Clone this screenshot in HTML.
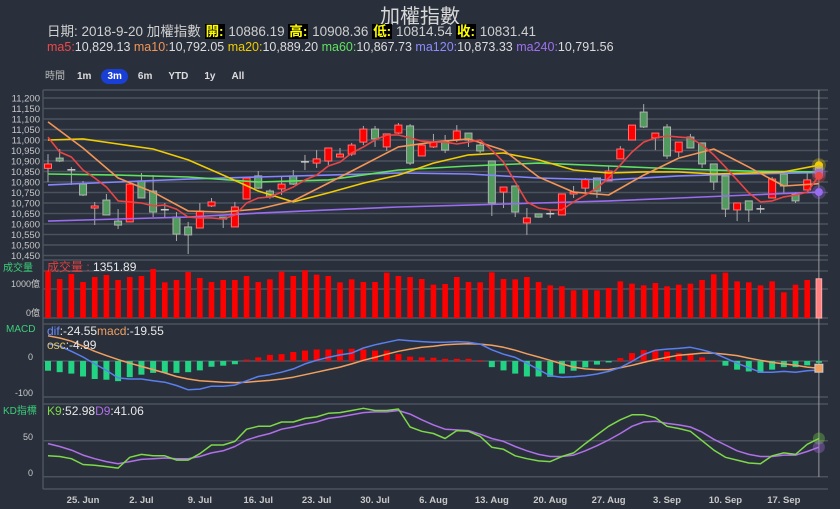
<!DOCTYPE html>
<html><head><meta charset="utf-8">
<style>
html,body{margin:0;padding:0;background:#29303b;width:840px;height:509px;overflow:hidden;font-family:"Liberation Sans","Noto Sans CJK TC",sans-serif;}
.abs{position:absolute;white-space:nowrap;}
#title{left:0;width:840px;text-align:center;top:0;font-size:20px;color:#d8d8d8;}
#info{left:47px;top:20px;font-size:13.5px;color:#cfcfcf;}
#info .k{background:#000;color:#ffff00;font-weight:bold;padding:0 1px;}
#mas{left:47px;top:40px;font-size:12.5px;color:#dcdcdc;}
#range{left:43px;top:65px;font-size:10px;color:#ddd;}
#range span{display:inline-block;margin-right:4px;padding:2px 6px;border-radius:8px;font-weight:bold;}
svg{position:absolute;left:0;top:0;}
</style></head>
<body>
<div id="title" class="abs">加權指數</div>
<div id="info" class="abs">日期: 2018-9-20 加權指數 <span class="k">開:</span> 10886.19 <span class="k">高:</span> 10908.36 <span class="k">低:</span> 10814.54 <span class="k">收:</span> 10831.41</div>
<div id="mas" class="abs"><span style="color:#f04848">ma5:</span>10,829.13 <span style="color:#f39556">ma10:</span>10,792.05 <span style="color:#f0cc00">ma20:</span>10,889.20 <span style="color:#5fe35f">ma60:</span>10,867.73 <span style="color:#8c8cff">ma120:</span>10,873.33 <span style="color:#a070f0">ma240:</span>10,791.56</div>
<div id="range" class="abs"><span style="font-weight:normal;color:#bbb;padding:2px 2px">時間</span><span>1m</span><span style="background:#1a3fd6;color:#fff">3m</span><span>6m</span><span>YTD</span><span>1y</span><span>All</span></div>
<svg id="chart" width="840" height="509"></svg>
<script>
const opens=[10865,10914,10855,10790,10676,10714,10614,10610,10805,10757,10665,10633,10586,10581,10686,10633,10586,10719,10829,10757,10767,10829,10894,10890,10900,10919,10933,10990,11052,10967,11033,11067,10924,10967,10990,11000,11033,10976,10900,10752,10781,10605,10648,10647,10643,10743,10771,10819,10805,10910,11000,11133,11010,11062,10943,11014,10986,10886,10829,10667,10710,10670,10724,10838,10743,10762,10886];
const closes=[10886,10900,10858,10738,10686,10643,10595,10790,10724,10657,10668,10552,10548,10662,10705,10624,10681,10819,10771,10729,10790,10790,10896,10910,10962,10933,10976,11052,11005,11029,11071,10890,10976,10990,10952,11043,11000,10948,10700,10776,10657,10629,10633,10649,10743,10752,10814,10757,10852,10957,11071,11062,11033,10924,10990,10962,10886,10800,10671,10700,10667,10672,10814,10781,10710,10810,10831];
const highs=[10933,10957,10871,10805,10705,10743,10671,10790,10843,10833,10700,10657,10610,10700,10724,10633,10705,10819,10852,10765,10824,10857,10929,10952,10962,10962,10986,11067,11067,11029,11081,11076,10976,11029,11024,11071,11033,10990,10900,10776,10781,10676,10650,10670,10743,10781,10819,10819,10876,10971,11071,11171,11033,11076,10990,11029,10986,10886,10829,10700,10710,10690,10824,10838,10752,10843,10908];
const lows=[10800,10895,10786,10733,10595,10643,10576,10610,10724,10633,10629,10519,10457,10581,10681,10581,10586,10719,10767,10720,10738,10786,10857,10867,10881,10919,10924,10976,10967,10948,11029,10881,10924,10962,10938,10990,10967,10938,10638,10676,10633,10548,10630,10629,10643,10724,10748,10724,10805,10910,11000,11057,10952,10910,10919,10962,10867,10762,10633,10614,10610,10652,10724,10748,10700,10762,10815];
const ma5=[11014,10943,10919,10857,10819,10776,10710,10705,10700,10686,10690,10671,10633,10629,10629,10624,10643,10700,10724,10729,10752,10776,10810,10833,10876,10895,10938,10967,11000,11024,11024,11010,10995,10990,10990,10981,10990,11000,10952,10895,10800,10705,10676,10667,10667,10705,10738,10771,10819,10881,10943,10990,11010,11019,11014,11010,10976,10929,10871,10810,10748,10705,10710,10729,10738,10752,10829];
const ma10=[11086,10962,10819,10752,10662,10657,10671,10710,10795,10881,10967,10990,11005,10952,10824,10752,10738,10833,10914,10957,10871,10781,10792];
const ma20=[11000,11005,10981,10957,10905,10833,10757,10705,10748,10795,10833,10890,10929,10938,10905,10857,10843,10848,10848,10838,10843,10848,10880];
const ma60=[10838,10833,10824,10800,10810,10857,10876,10890,10876,10862,10852,10848];
const ma120=[10786,10800,10814,10824,10833,10843,10838,10819,10810,10829,10838,10845];
const ma240=[10614,10624,10633,10652,10667,10681,10690,10700,10710,10724,10738,10752];
const volumes=[1632,1345,1517,1241,1414,1483,1310,1414,1448,1690,1230,1310,1586,1380,1241,1310,1310,1448,1241,1333,1598,1448,1644,1494,1448,1230,1333,1241,1241,1563,1448,1414,1345,1149,1172,1414,1241,1230,1575,1345,1333,1414,1241,1126,1092,954,977,954,1034,1264,1184,1126,1207,1092,1149,1184,1310,1506,1563,1264,1230,1126,1264,885,1149,1310,1352];
const oscs=[-27,-31,-35,-43,-50,-52,-56,-45,-38,-33,-33,-33,-31,-26,-16,-13,-9,4,10,17,19,25,29,32,32,32,34,32,29,29,19,12,10,9,6,6,6,0,-17,-26,-35,-43,-43,-44,-35,-27,-18,-10,-4,8,22,30,30,26,22,19,10,1,-13,-24,-29,-33,-24,-17,-17,-12,-5];
const difs=[48,41,27,11,-8,-26,-47,-50,-50,-55,-59,-68,-80,-78,-70,-70,-67,-55,-43,-38,-31,-22,-8,2,10,17,22,36,45,52,59,56,54,52,52,54,52,47,31,19,10,-6,-24,-41,-45,-44,-41,-36,-29,-18,-1,18,30,33,35,38,31,22,8,-6,-19,-31,-31,-29,-31,-27,-25];
const macds=[70,64,55,41,27,15,4,-6,-15,-24,-33,-43,-50,-55,-57,-59,-60,-59,-56,-54,-50,-45,-38,-31,-24,-17,-8,2,10,19,27,33,38,41,45,47,48,47,44,38,30,20,11,2,-8,-17,-22,-24,-24,-19,-12,-4,4,10,16,19,22,22,19,15,8,2,-4,-8,-12,-17,-20];
const kVals=[29,28,25,17,16,14,12,27,31,29,29,23,23,32,44,44,49,66,70,70,76,76,81,83,88,89,92,95,92,92,94,69,63,60,53,64,63,56,41,38,29,25,22,21,28,33,46,58,70,79,86,86,82,70,67,63,50,37,27,23,19,18,29,33,31,45,53];
const dVals=[46,42,37,30,25,21,18,21,24,25,26,25,25,28,33,36,42,51,56,60,66,69,73,76,81,83,86,89,90,90,92,87,79,72,66,65,64,59,53,49,42,36,31,28,28,30,36,43,51,60,70,76,77,74,72,69,62,52,44,36,31,28,28,30,30,35,41];
const priceTicks=[11200,11150,11100,11050,11000,10950,10900,10850,10800,10750,10700,10650,10600,10550,10500,10450];
const dateLabels=["25. Jun","2. Jul","9. Jul","16. Jul","23. Jul","30. Jul","6. Aug","13. Aug","20. Aug","27. Aug","3. Sep","10. Sep","17. Sep"];
const dateIdx=[3,8,13,18,23,28,33,38,43,48,53,58,63];

const NS="http://www.w3.org/2000/svg";
const svg=document.getElementById('chart');
function mk(tag,attrs,parent){const e=document.createElementNS(NS,tag);for(const k in attrs)e.setAttribute(k,attrs[k]);(parent||svg).appendChild(e);return e;}
const X=i=>48+i*11.68;
const PY=p=>98+(11200-p)*0.21;
const VY=v=>318-v*0.029;
const MY=v=>361-v*0.36;
const KY=v=>476.7-v*0.72;
const L=43,R=828,GRID="#4a525e",LBL="#c8c8c8";

function hline(y,name){const l=mk('line',{x1:L,x2:R,y1:y,y2:y,stroke:GRID,'stroke-width':1.5});}
function text(x,y,s,opts,name){const t=mk('text',Object.assign({x:x,y:y,'font-size':9.5,fill:LBL,'font-family':'"Liberation Sans","Noto Sans CJK TC",sans-serif'},opts||{}));t.textContent=s;return t;}

hline(90,'main-panel-top');
priceTicks.forEach(p=>{hline(PY(p),'price-gridline');text(40,PY(p)+3.5,p.toLocaleString('en-US'),{'text-anchor':'end'},'price-tick-label');});
hline(260,'volume-panel-top');hline(271,'volume-gridline');hline(VY(1000),'volume-gridline');hline(318,'volume-panel-bottom');
text(40,287,'1000億',{'text-anchor':'end','font-size':9},'volume-tick-label');
text(40,316,'0億',{'text-anchor':'end','font-size':9},'volume-tick-label');
hline(324,'macd-panel-top');hline(MY(0),'macd-zero-line');hline(397,'macd-panel-bottom');
text(33,360,'0',{'text-anchor':'end','font-size':9},'macd-tick-label');
text(33,396,'-100',{'text-anchor':'end','font-size':9},'macd-tick-label');
hline(404,'kd-panel-top');hline(KY(50),'kd-gridline');hline(KY(0),'kd-panel-bottom');
text(33,440,'50',{'text-anchor':'end','font-size':9},'kd-tick-label');
text(33,476,'0',{'text-anchor':'end','font-size':9},'kd-tick-label');
const ax=mk('line',{x1:L,x2:L,y1:90,y2:489,stroke:GRID,'stroke-width':1.5});
const xb=mk('line',{x1:L,x2:R,y1:489,y2:489,stroke:GRID,'stroke-width':1.5});
text(3,271,'成交量',{'font-size':10,fill:'#3ccf7a'},'volume-panel-label');
text(6,332,'MACD',{'font-size':10,fill:'#3ccf7a'},'macd-panel-label');
text(3,414,'KD指標',{'font-size':10,fill:'#3ccf7a'},'kd-panel-label');
dateLabels.forEach((s,j)=>{text(X(dateIdx[j]),503,s,{'text-anchor':'middle','font-size':9.5,'font-weight':'bold'},'x-tick-label');});

const ch=mk('line',{x1:X(66),x2:X(66),y1:90,y2:477,stroke:'#999','stroke-width':1});

opens.forEach((o,i)=>{
  const c=closes[i],x=X(i);
  const g=mk('g',{});
  mk('line',{x1:x,x2:x,y1:PY(highs[i]),y2:PY(lows[i]),stroke:'#aaa','stroke-width':1},g);
  if(Math.abs(c-o)<5){mk('line',{x1:x-4,x2:x+4,y1:PY(c),y2:PY(c),stroke:'#ccc','stroke-width':1.5},g);}
  else{const up=c>o;const t=PY(Math.max(o,c)),b=PY(Math.min(o,c));
    mk('rect',{x:x-3.5,y:t,width:7,height:Math.max(1,b-t),fill:up?'#ff0000':'#4f9a5c',stroke:up?'#ff7070':'#b0b0b0','stroke-width':1},g);}
});
function line(arr,step,fy,color,name,w){
  const pts=arr.map((v,j)=>X(j*step).toFixed(1)+','+fy(v).toFixed(1)).join(' ');
  const p=mk('polyline',{points:pts,fill:'none',stroke:color,'stroke-width':w||1.6,'stroke-linejoin':'round'});
  return p;
}
line(ma240,6,PY,'#9a6cf0','ma240-line');
line(ma120,6,PY,'#8585ff','ma120-line');
line(ma60,6,PY,'#5fe35f','ma60-line');
line(ma20,3,PY,'#f0cc00','ma20-line');
line(ma10,3,PY,'#f39556','ma10-line');
line(ma5,1,PY,'#ea4545','ma5-line');
[[ma20[ma20.length-1],'#f0cc00'],[ma120[ma120.length-1],'#8585ff'],[ma5[ma5.length-1],'#ea4545'],[ma240[ma240.length-1],'#9a6cf0']].forEach(a=>{
  const y=PY(a[0]);const h=mk('circle',{cx:X(66),cy:y,r:7,fill:a[1],opacity:0.3});
  const c=mk('circle',{cx:X(66),cy:y,r:4,fill:a[1]});
});

volumes.forEach((v,i)=>{const last=i===volumes.length-1;
  const r=mk('rect',{x:X(i)-2.8,y:VY(v),width:5.6,height:318-VY(v),fill:last?'#ff8080':'#ff0000',stroke:last?'#ffaaaa':'none'});
  });
const vl=text(47,271,'成交量 : ',{'font-size':12,fill:'#e04040'},'volume-legend');
const vt=mk('tspan',{fill:'#e8e8e8'},vl);vt.textContent='1351.89';

oscs.forEach((v,i)=>{const y0=MY(0),y=MY(v);
  const r=mk('rect',{x:X(i)-3,y:Math.min(y0,y),width:6,height:Math.max(1,Math.abs(y-y0)),fill:v>=0?'#ff0000':'#22d384'});
  });
line(macds,1,MY,'#f2a060','macd-line',1.5);
line(difs,1,MY,'#5a7ff0','dif-line',1.5);
const ml=text(47,335,'dif',{'font-size':12,fill:'#6a8cff'},'macd-legend');
[[':-24.55','#e8e8e8'],['macd','#f2a060'],[':-19.55','#e8e8e8']].forEach(a=>{const s=mk('tspan',{fill:a[1]},ml);s.textContent=a[0];});
const ol=text(47,349,'osc',{'font-size':12,fill:'#e0c060'},'osc-legend');
const os=mk('tspan',{fill:'#e8e8e8'},ol);os.textContent=':-4.99';
const mm=mk('rect',{x:X(66)-4,y:MY(-20)-4,width:8,height:8,fill:'#f2a060',stroke:'#ccc'});

line(dVals,1,KY,'#b070e8','d-line',1.5);
line(kVals,1,KY,'#7ed84a','k-line',1.5);
const kl=text(47,415,'K9',{'font-size':12,fill:'#7ed84a'},'kd-legend');
[[':52.98','#e8e8e8'],['D9','#b070e8'],[':41.06','#e8e8e8']].forEach(a=>{const s=mk('tspan',{fill:a[1]},kl);s.textContent=a[0];});
[[kVals[66],'#7ed84a'],[dVals[66],'#b070e8']].forEach(a=>{const c=mk('circle',{cx:X(66),cy:KY(a[0]),r:6,fill:a[1],opacity:0.35});});
</script>
</body></html>
